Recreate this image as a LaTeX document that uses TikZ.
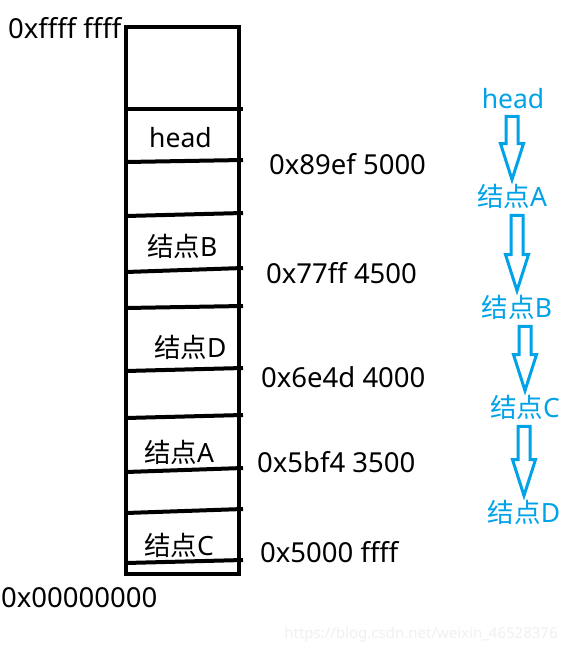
\documentclass[tikz,border=0pt]{standalone}
\usepackage{fontspec}
\setmainfont{Noto Sans}
\newfontfamily\cjk{Noto Sans CJK SC}
\usetikzlibrary{calc}
\definecolor{paintblue}{RGB}{0,162,232}
\tikzset{
  memline/.style={line width=4pt},
  addr/.style={anchor=west, inner sep=0pt, font=\fontsize{27.5}{30}\selectfont},
  cell/.style={anchor=west, inner sep=0pt, font=\fontsize{26.5}{30}\selectfont},
  listnode/.style={inner sep=0pt, text=paintblue, font=\fontsize{26.5}{30}\selectfont},
  listarrow/.style={draw=paintblue, line width=3pt, line join=miter},
}
% 空心箭头: #1 起点结点, #2 终点结点
\newcommand{\blockarrow}[2]{%
  \draw[listarrow] let \p1=($(#1.south -| #2.north)+(0,7)$), \p2=($(#2.north)+(0,-4)$) in
    (\x1-6pt,\y1) -- (\x1+6pt,\y1) -- (\x1+6pt,\y2+36pt) -- (\x1+11.5pt,\y2+36pt)
    -- (\x2,\y2) -- (\x1-11.5pt,\y2+36pt) -- (\x1-6pt,\y2+36pt) -- cycle;}
\begin{document}
\begin{tikzpicture}[x=1pt,y=-1pt]
    \useasboundingbox[fill=white] (0,0) rectangle (567,654);

    % 画内存条
    \draw[memline] (126,27) rectangle (239,574);
    \foreach \l/\r in {109/109,162/160,216/213,272/268,308/306,
                       371/368,418/415,472/468,513/509,563/560}
      \draw[memline] (126,\l) -- (243,\r);

    % 插入文字
    \node[cell] (mhead) at (149,138) {head};
    \node[cell] (mB) at (147,246) {{\cjk 结点}B};
    \node[cell] (mD) at (154,347) {{\cjk 结点}D};
    \node[cell] (mA) at (144,452) {{\cjk 结点}A};
    \node[cell] (mC) at (144,545) {{\cjk 结点}C};

    % 地址
    \node[addr] (top) at (8,28) {0xffff ffff};
    \node[addr] (ahead) at (269,164) {0x89ef 5000};
    \node[addr] (aB) at (266,273) {0x77ff 4500};
    \node[addr] (aD) at (261,377) {0x6e4d 4000};
    \node[addr] (aA) at (257,462) {0x5bf4 3500};
    \node[addr] (aC) at (260,552) {0x5000 ffff};
    \node[addr] (bottom) at (1,598) {0x00000000};

    % 链表
    \node[listnode] (rhead) at (513,99) {head};
    \node[listnode] (rA) at (512,196) {{\cjk 结点}A};
    \node[listnode] (rB) at (517,307) {{\cjk 结点}B};
    \node[listnode] (rC) at (525,407) {{\cjk 结点}C};
    \node[listnode] (rD) at (524,512) {{\cjk 结点}D};
    \blockarrow{rhead}{rA}
    \blockarrow{rA}{rB}
    \blockarrow{rB}{rC}
    \blockarrow{rC}{rD}

    \node[inner sep=0pt, text=black!6, font=\fontsize{15}{18}\selectfont] (mark) at (421,635) {https://blog.csdn.net/weixin\_46528376};

  \end{tikzpicture}
\end{document}
